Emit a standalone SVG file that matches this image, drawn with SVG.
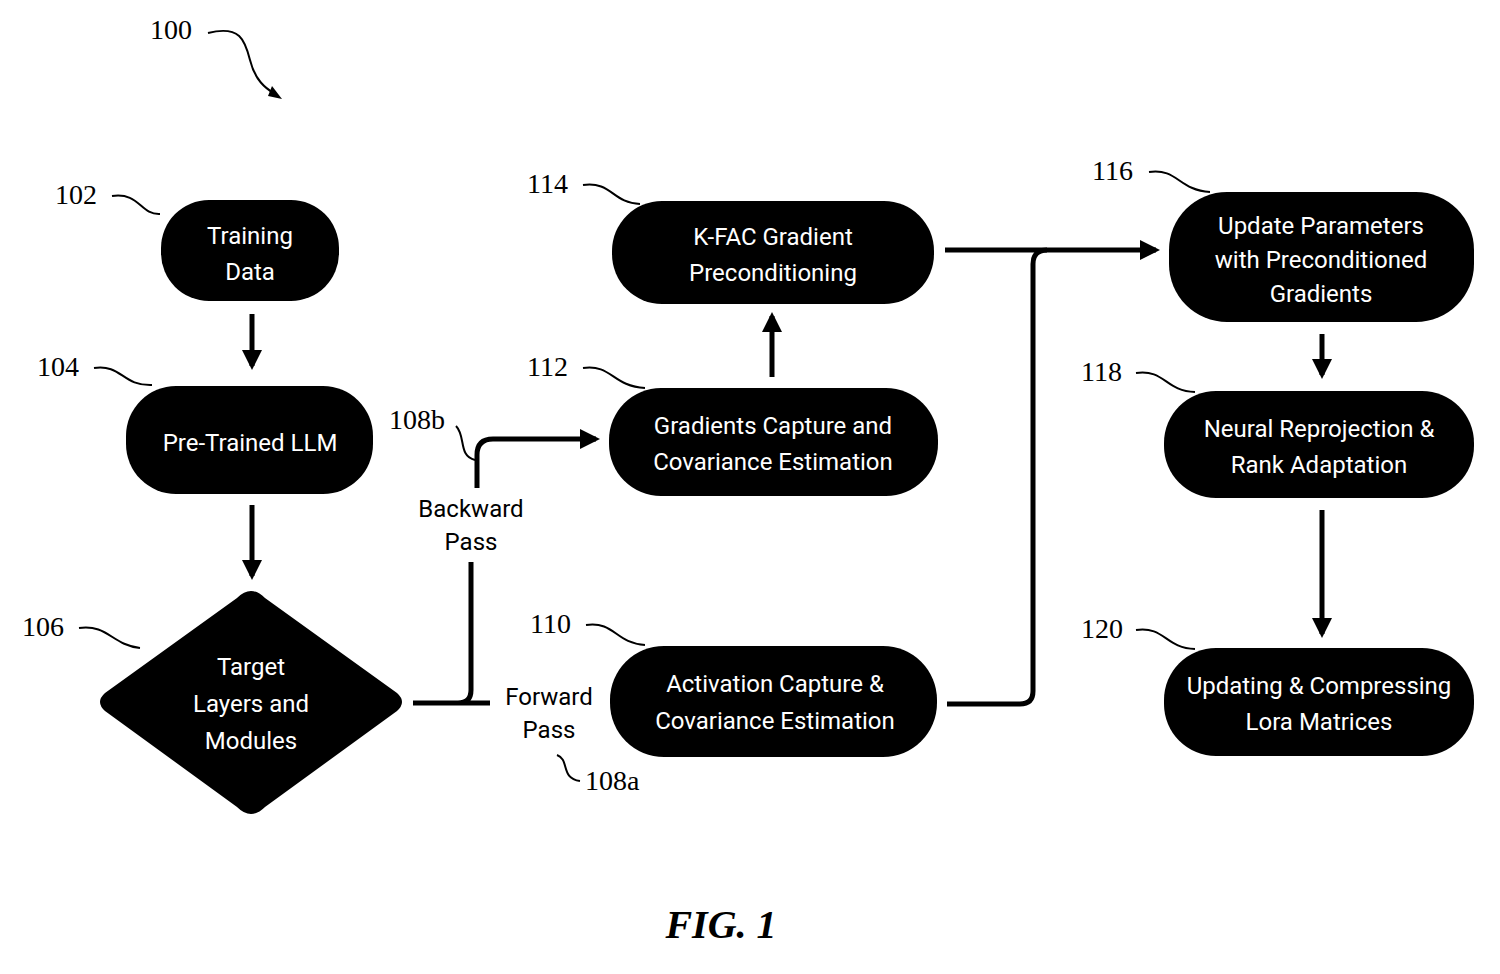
<svg xmlns="http://www.w3.org/2000/svg" width="1500" height="974" viewBox="0 0 1500 974">
<defs>
<style>
.n{fill:#000}
.t{fill:#fff;font-family:Roboto,"Liberation Sans",sans-serif;font-size:24px;text-anchor:middle}
.d{fill:#000;font-family:Roboto,"Liberation Sans",sans-serif;font-size:24px;text-anchor:middle}
.r{fill:#000;font-family:"Liberation Serif",serif;font-size:28px}
.c{fill:none;stroke:#000;stroke-width:5}
.l{fill:none;stroke:#000;stroke-width:2}
</style>
<marker id="a" viewBox="0 0 10 10" refX="8" refY="5" markerWidth="4" markerHeight="4" orient="auto"><path d="M0,0L10,5L0,10z" fill="#000"/></marker>
</defs>
<rect width="1500" height="974" fill="#fff"/>
<text class="r" x="150" y="39">100</text>
<path class="l" d="M208,33C240,25 245,40 250,60C255,80 265,88 275,94"/>
<path d="M268,96L282,99L272,86z" fill="#000"/>
<g id="n102"><rect class="n" x="161" y="200" width="178" height="101" rx="48"/><text class="t" x="250" y="244">Training</text><text class="t" x="250" y="280">Data</text></g>
<g id="n104"><rect class="n" x="126" y="386" width="247" height="108" rx="50"/><text class="t" x="250" y="451">Pre-Trained LLM</text></g>
<g id="n106"><path class="n" d="M251,591Q258,591 265,598L397,693Q407,702 397,711L265,807Q258,814 251,814Q244,814 237,807L105,711Q95,702 105,693L237,598Q244,591 251,591z"/><text class="t" x="251" y="675">Target</text><text class="t" x="251" y="712">Layers and</text><text class="t" x="251" y="749">Modules</text></g>
<g id="n114"><rect class="n" x="612" y="201" width="322" height="103" rx="50"/><text class="t" x="773" y="245">K-FAC Gradient</text><text class="t" x="773" y="281">Preconditioning</text></g>
<g id="n112"><rect class="n" x="609" y="388" width="329" height="108" rx="52"/><text class="t" x="773" y="434">Gradients Capture and</text><text class="t" x="773" y="470">Covariance Estimation</text></g>
<g id="n110"><rect class="n" x="610" y="646" width="327" height="111" rx="54"/><text class="t" x="775" y="692">Activation Capture &amp;</text><text class="t" x="775" y="729">Covariance Estimation</text></g>
<g id="n116"><rect class="n" x="1169" y="192" width="305" height="130" rx="58"/><text class="t" x="1321" y="234">Update Parameters</text><text class="t" x="1321" y="268">with Preconditioned</text><text class="t" x="1321" y="302">Gradients</text></g>
<g id="n118"><rect class="n" x="1164" y="391" width="310" height="107" rx="52"/><text class="t" x="1319" y="437">Neural Reprojection &amp;</text><text class="t" x="1319" y="473">Rank Adaptation</text></g>
<g id="n120"><rect class="n" x="1164" y="648" width="310" height="108" rx="52"/><text class="t" x="1319" y="694">Updating &amp; Compressing</text><text class="t" x="1319" y="730">Lora Matrices</text></g>
<g id="connectors">
<path class="c" marker-end="url(#a)" d="M252,314V366"/>
<path class="c" marker-end="url(#a)" d="M252,505V576"/>
<path class="c" d="M413,703H490M458,703Q471,703 471,690V562"/>
<path class="c" marker-end="url(#a)" d="M477,488V455Q477,439 493,439H596"/>
<path class="c" marker-end="url(#a)" d="M772,377V316"/>
<path class="c" marker-end="url(#a)" d="M945,250H1156"/>
<path class="c" d="M947,704H1020Q1033,704 1033,691V264Q1033,250 1047,250"/>
<path class="c" marker-end="url(#a)" d="M1322,334V375"/>
<path class="c" marker-end="url(#a)" d="M1322,510V634"/>
</g>
<text class="d" x="471" y="517">Backward</text><text class="d" x="471" y="550">Pass</text>
<text class="d" x="549" y="705">Forward</text><text class="d" x="549" y="738">Pass</text>
<text class="r" x="55" y="204">102</text><path class="l" d="M112,196C140,192 140,215 160,214"/>
<text class="r" x="37" y="376">104</text><path class="l" d="M94,368C122,364 122,386 152,385"/>
<text class="r" x="22" y="636">106</text><path class="l" d="M79,628C108,624 112,645 140,648"/>
<text class="r" x="389" y="429">108b</text><path class="l" d="M456,426C466,436 458,456 475,460"/>
<text class="r" x="585" y="790">108a</text><path class="l" d="M557,755C570,760 560,778 580,781"/>
<text class="r" x="527" y="193">114</text><path class="l" d="M583,185C612,181 612,203 640,204"/>
<text class="r" x="527" y="376">112</text><path class="l" d="M583,368C612,364 612,386 645,388"/>
<text class="r" x="530" y="633">110</text><path class="l" d="M586,625C615,621 615,643 645,645"/>
<text class="r" x="1092" y="180">116</text><path class="l" d="M1149,172C1178,168 1178,190 1210,192"/>
<text class="r" x="1081" y="381">118</text><path class="l" d="M1136,373C1165,369 1165,391 1195,392"/>
<text class="r" x="1081" y="638">120</text><path class="l" d="M1136,630C1165,626 1165,648 1195,649"/>
<text x="721" y="938" style="font-family:'Liberation Serif',serif;font-size:40px;font-weight:bold;font-style:italic;text-anchor:middle">FIG. 1</text>
</svg>
